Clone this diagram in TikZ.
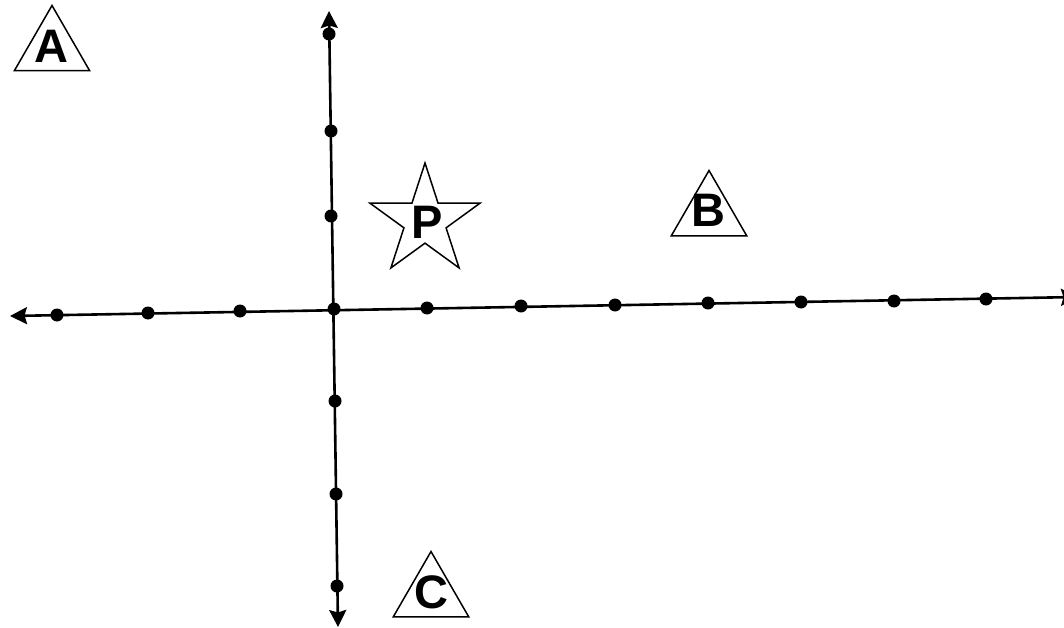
\documentclass[tikz,border=0pt]{standalone}
\usepackage{fontspec}
\setmainfont{Liberation Sans}
\usepackage{tikz}
\usetikzlibrary{shapes.geometric,arrows.meta}

\begin{document}
\begin{tikzpicture}[x=1pt,y=-1pt,>={Stealth[length=17pt,width=17pt,inset=2.5pt]},
  axis/.style={line width=2.6pt},
  dot/.style={circle,fill,inner sep=0pt,minimum size=13pt},
  tri/.style={draw,line width=1.5pt,regular polygon,regular polygon sides=3,minimum size=87pt,inner sep=0pt},
  pstar/.style={draw,line width=1.5pt,star,star points=5,star point ratio=2.618,minimum size=116pt,inner sep=0pt},
  letter/.style={font=\fontsize{47}{47}\selectfont\bfseries,inner sep=0pt}]
  \useasboundingbox (0,0) rectangle (1064,628);
  % axis ends
  \coordinate (west) at (10,316);
  \coordinate (east) at (1078,297);
  \coordinate (north) at (329,11);
  \coordinate (south) at (338,627);
  \path[<->,axis]
    (west) edge (east)
    (north) edge (south);
  % dots on the horizontal axis
  \node[dot] (h1) at (57,315) {};
  \node[dot] (h2) at (148,313) {};
  \node[dot] (h3) at (240,311) {};
  \node[dot] (o) at (334,309) {};
  \node[dot] (h5) at (427,308) {};
  \node[dot] (h6) at (521,306) {};
  \node[dot] (h7) at (615,305) {};
  \node[dot] (h8) at (708,303) {};
  \node[dot] (h9) at (801,302) {};
  \node[dot] (h10) at (894,301) {};
  \node[dot] (h11) at (986,299) {};
  % dots on the vertical axis
  \node[dot] (v1) at (329,34) {};
  \node[dot] (v2) at (331,131) {};
  \node[dot] (v3) at (331,216) {};
  \node[dot] (v5) at (335,401) {};
  \node[dot] (v6) at (336,494) {};
  \node[dot] (v7) at (337,586) {};
  % points
  \node[tri] (triA) at (52,49) {};
  \node[letter] (labA) at (51,46) {A};
  \node[tri] (triB) at (709,214) {};
  \node[letter] (labB) at (708,210) {B};
  \node[tri] (triC) at (431,595) {};
  \node[letter] (labC) at (431,592) {C};
  \node[pstar] (starP) at (425,221) {};
  \node[letter] (labP) at (427,222) {P};
\end{tikzpicture}
\end{document}
